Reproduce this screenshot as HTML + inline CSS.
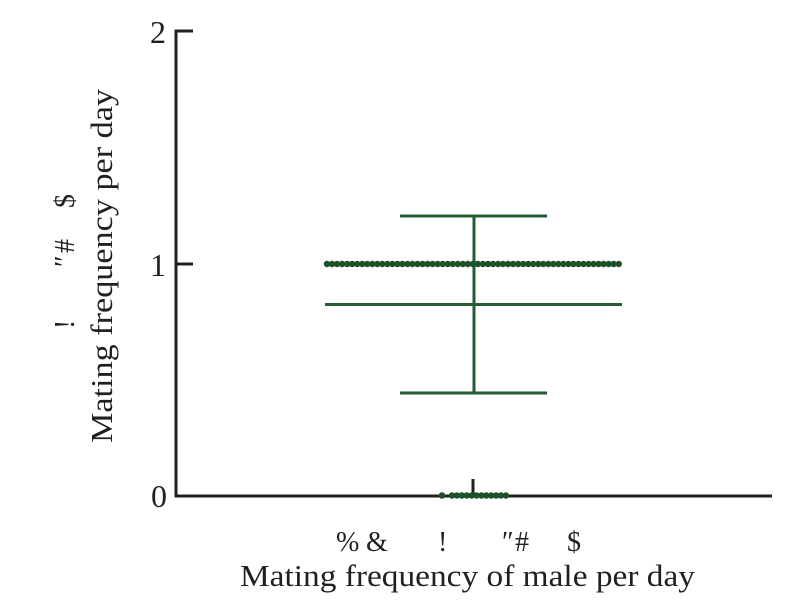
<!DOCTYPE html>
<html>
<head>
<meta charset="utf-8">
<style>
  html, body { margin: 0; padding: 0; background: #ffffff; }
  svg { display: block; }
  text { font-family: "Liberation Serif", "Times New Roman", serif; fill: #231f20; }
</style>
</head>
<body>
<svg width="806" height="616" viewBox="0 0 806 616" xmlns="http://www.w3.org/2000/svg">
  <rect width="806" height="616" fill="#ffffff"/>

  <!-- axes -->
  <g stroke="#231f20" stroke-width="3" fill="none">
    <polyline points="193,31 176,31 176,496 772,496"/>
    <line x1="176" y1="264" x2="193" y2="264"/>
    <line x1="473" y1="479" x2="473" y2="496"/>
  </g>

  <!-- y tick labels -->
  <text x="166" y="43" font-size="32" text-anchor="end">2</text>
  <text x="166" y="276" font-size="32" text-anchor="end">1</text>
  <text x="167" y="507" font-size="32" text-anchor="end">0</text>

  <!-- error bars -->
  <g stroke="#235b33" stroke-width="3" fill="none">
    <line x1="400" y1="216" x2="547" y2="216"/>
    <line x1="400" y1="393" x2="547" y2="393"/>
    <line x1="474" y1="216" x2="474" y2="393"/>
    <line x1="325" y1="304.5" x2="622" y2="304.5"/>
  </g>

  <!-- dots at 1 -->
  <line x1="327" y1="264" x2="619" y2="264" stroke="#1d5129" stroke-width="6.5" stroke-linecap="round" stroke-dasharray="0 5.03"/>
  <!-- dots at 0 -->
  <circle cx="442" cy="495.5" r="3.3" fill="#1d5129"/>
  <line x1="452" y1="495.5" x2="506" y2="495.5" stroke="#1d5129" stroke-width="6.5" stroke-linecap="round" stroke-dasharray="0 4.9"/>

  <!-- x axis label -->
  <text x="336" y="551" font-size="28">%</text>
  <text x="366" y="551" font-size="28">&amp;</text>
  <text x="438" y="551" font-size="28">!</text>
  <text x="502" y="551" font-size="28">″</text>
  <text x="515" y="551" font-size="28">#</text>
  <text x="567" y="551" font-size="28">$</text>
  <text x="240" y="586" font-size="31" textLength="455" lengthAdjust="spacingAndGlyphs">Mating frequency of male per day</text>

  <!-- y axis label -->
  <g transform="translate(112,443) rotate(-90)">
    <text x="0" y="0" font-size="31" textLength="354" lengthAdjust="spacingAndGlyphs">Mating frequency per day</text>
  </g>
  <g transform="translate(74,0)">
    <text transform="translate(0,329) rotate(-90)" font-size="28">!</text>
    <text transform="translate(0,267) rotate(-90)" font-size="28">″</text>
    <text transform="translate(0,253) rotate(-90)" font-size="28">#</text>
    <text transform="translate(0,208) rotate(-90)" font-size="28">$</text>
  </g>
</svg>
</body>
</html>
